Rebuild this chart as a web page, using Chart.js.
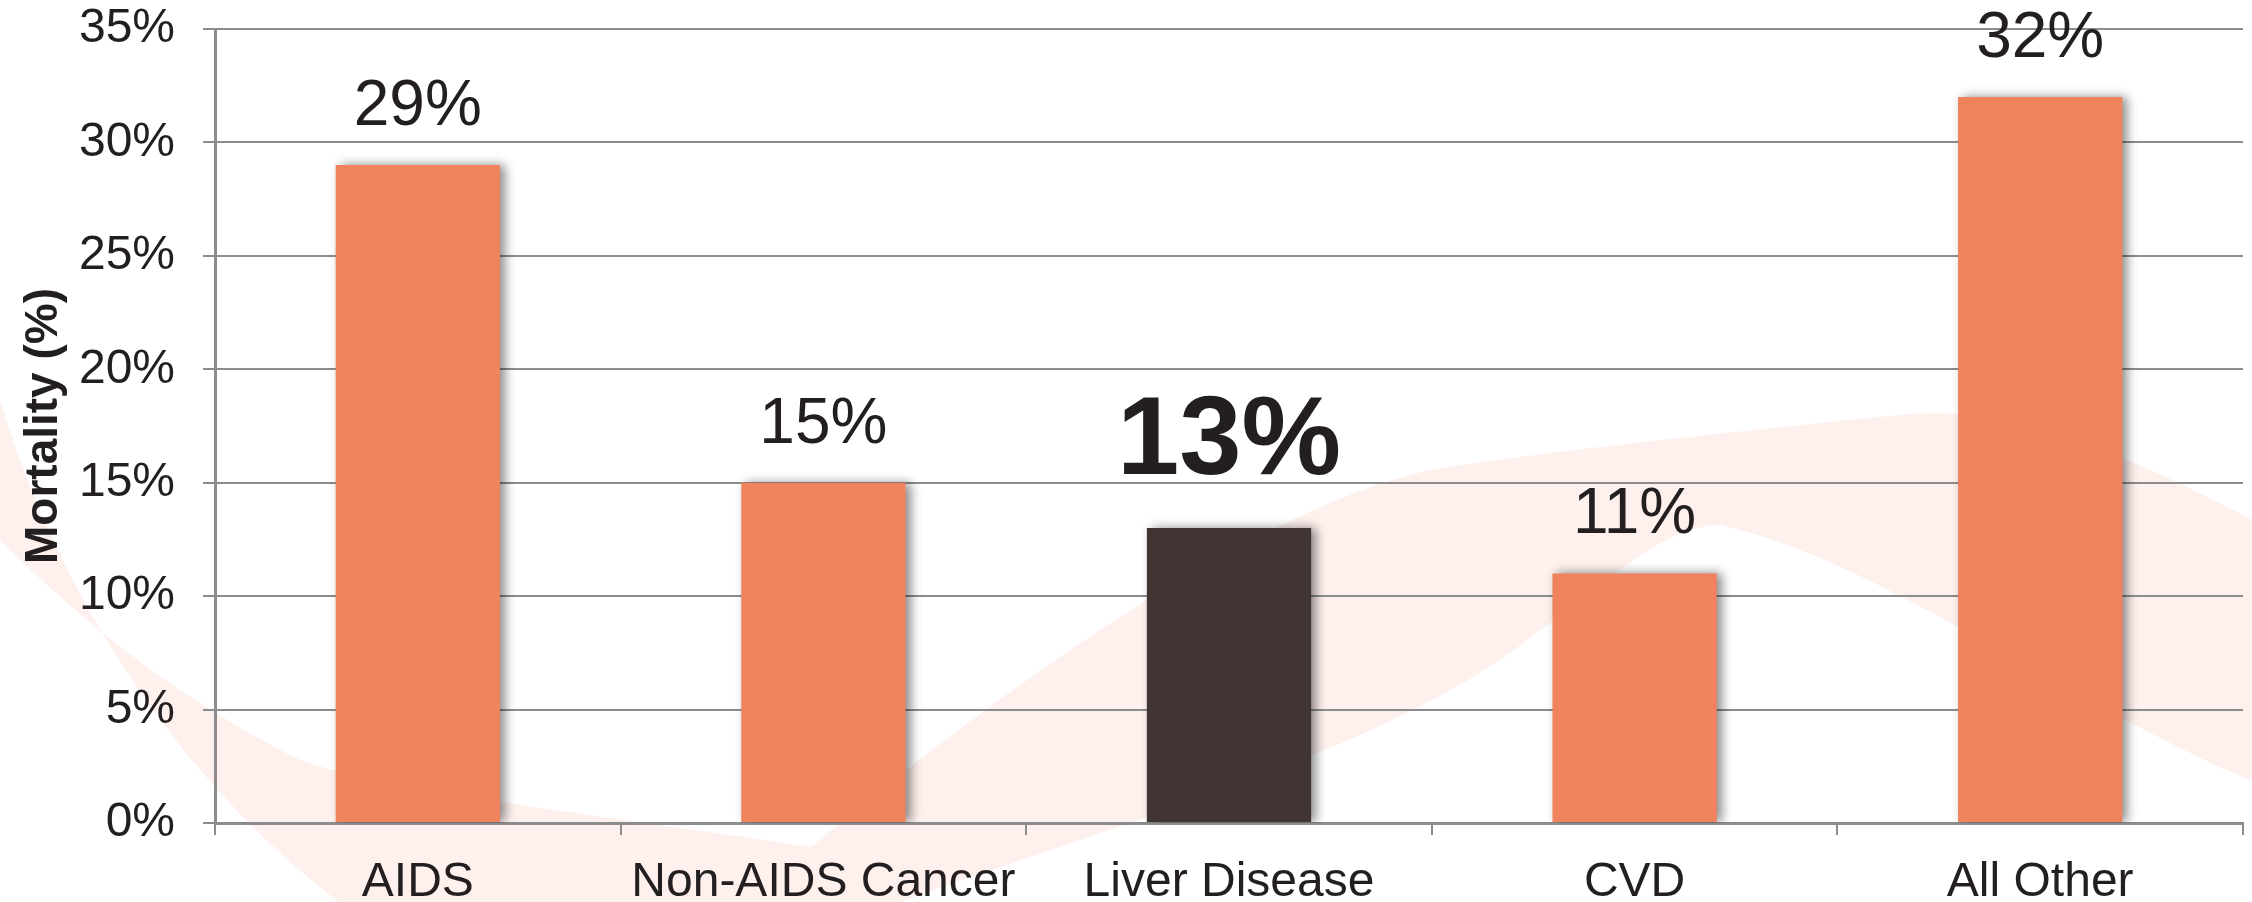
<!DOCTYPE html>
<html lang="en">
<head>
    <meta charset="UTF-8">
    <title>Mortality by Cause</title>
    <script src="https://cdn.jsdelivr.net/npm/chart.js"></script>
    <style>
        html, body { margin: 0; padding: 0; background: #ffffff; }
        .wrap { width: 2252px; height: 902px; position: relative; }
    </style>
</head>
<body>
    <div class="wrap"><canvas id="mortalityChart"></canvas></div>

    <script>
        // data
        const categories = ["AIDS", "Non-AIDS Cancer", "Liver Disease", "CVD", "All Other"];
        const mortality = [29, 15, 13, 11, 32];
        const highlightIndex = 2;
        const yMin = 0, yMax = 35, yStep = 5;

        const FONT = "'Liberation Sans', Arial, Helvetica, sans-serif";
        const ORANGE = "#f0825e";
        const DARK = "#413534";

        // faint pink ribbon behind the plot (decoration only)
        const ribbonPlugin = {
            id: "ribbon",
            beforeDraw(chart) {
                const ctx = chart.ctx;
                const sx = chart.width / 2252, sy = chart.height / 902;
                ctx.save();
                ctx.scale(sx, sy);
                ctx.fillStyle = "#fdf0ed";
                ctx.beginPath();
                ctx.moveTo(0, 400);
                ctx.bezierCurveTo(60, 600, 180, 780, 339, 902);
                ctx.lineTo(900, 902);
                ctx.bezierCurveTo(1100, 830, 1350, 760, 1500, 660);
                ctx.bezierCurveTo(1600, 590, 1660, 525, 1720, 525);
                ctx.bezierCurveTo(1880, 560, 2060, 700, 2252, 781);
                ctx.lineTo(2252, 520);
                ctx.bezierCurveTo(2100, 440, 2000, 405, 1900, 415);
                ctx.bezierCurveTo(1700, 435, 1520, 455, 1430, 470);
                ctx.bezierCurveTo(1250, 510, 1000, 690, 811, 847);
                ctx.bezierCurveTo(600, 815, 380, 790, 300, 760);
                ctx.bezierCurveTo(160, 690, 60, 600, 0, 540);
                ctx.closePath();
                ctx.fill();
                ctx.restore();
            }
        };

        // soft drop shadow on the bars
        const shadowPlugin = {
            id: "barShadow",
            beforeDatasetsDraw(chart) {
                const ctx = chart.ctx;
                ctx.save();
                ctx.shadowColor = "rgba(0,0,0,0.45)";
                ctx.shadowBlur = 10;
                ctx.shadowOffsetX = 5;
                ctx.shadowOffsetY = 0;
            },
            afterDatasetsDraw(chart) {
                chart.ctx.restore();
            }
        };

        // value labels above the bars
        const valueLabels = {
            id: "valueLabels",
            afterDatasetsDraw(chart) {
                const ctx = chart.ctx;
                const meta = chart.getDatasetMeta(0);
                ctx.save();
                ctx.fillStyle = "#231f20";
                ctx.textAlign = "center";
                ctx.textBaseline = "alphabetic";
                meta.data.forEach((bar, i) => {
                    const big = i === highlightIndex;
                    ctx.font = (big ? "bold 112px " : "64px ") + FONT;
                    ctx.fillText(mortality[i] + "%", bar.x, bar.y - (big ? 54 : 40));
                });
                ctx.restore();
            }
        };

        const ctx = document.getElementById("mortalityChart").getContext("2d");
        new Chart(ctx, {
            type: "bar",
            data: {
                labels: categories,
                datasets: [{
                    data: mortality,
                    backgroundColor: mortality.map((v, i) => i === highlightIndex ? DARK : ORANGE),
                    borderWidth: 0,
                    categoryPercentage: 0.405,
                    barPercentage: 1.0
                }]
            },
            options: {
                responsive: true,
                maintainAspectRatio: false,
                animation: false,
                layout: { padding: { left: 0, right: 9, top: 0, bottom: 0 } },
                plugins: {
                    legend: { display: false },
                    tooltip: { enabled: false }
                },
                scales: {
                    x: {
                        grid: {
                            drawOnChartArea: false,
                            drawTicks: true,
                            tickLength: 12,
                            color: "#8c8c8c",
                            lineWidth: 2
                        },
                        border: { color: "#8c8c8c", width: 3 },
                        ticks: {
                            color: "#231f20",
                            padding: 19,
                            font: { size: 48, family: FONT }
                        },
                        afterFit(scale) { scale.height = 79; }
                    },
                    y: {
                        min: yMin,
                        max: yMax,
                        grid: {
                            color: "#8c8c8c",
                            lineWidth: 2,
                            tickLength: 12
                        },
                        border: { color: "#8c8c8c", width: 3 },
                        ticks: {
                            stepSize: yStep,
                            color: "#231f20",
                            padding: 28,
                            font: { size: 48, family: FONT },
                            callback: v => v + "%"
                        },
                        title: {
                            display: true,
                            text: "Mortality (%)",
                            color: "#231f20",
                            padding: { top: 17, bottom: 0 },
                            font: { size: 46, weight: "bold", family: FONT }
                        },
                        afterFit(scale) {
                            scale.width = 215;
                            scale.paddingTop = 29;
                            scale.paddingBottom = 0;
                        }
                    }
                }
            },
            plugins: [ribbonPlugin, shadowPlugin, valueLabels]
        });
    </script>
</body>
</html>
